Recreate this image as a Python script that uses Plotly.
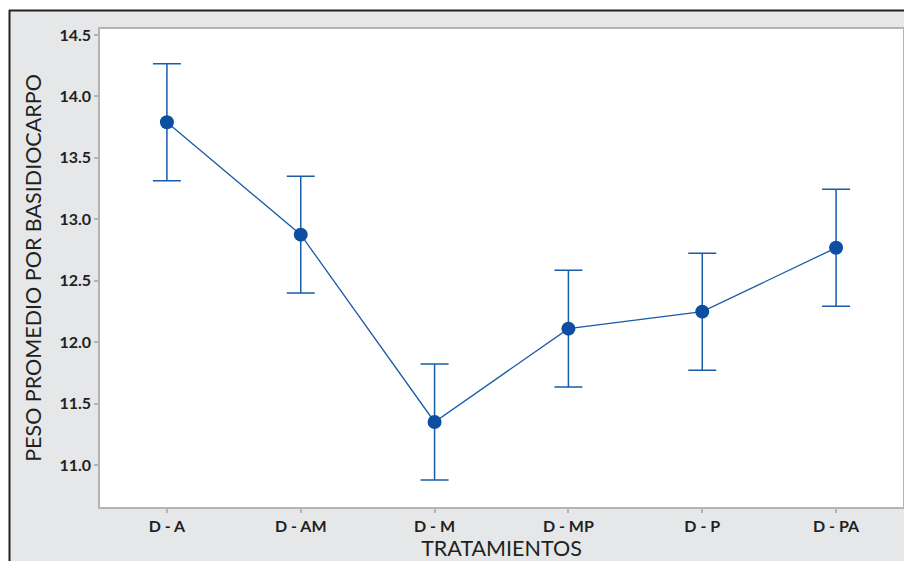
import plotly.graph_objects as go

categories = ["D - A", "D - AM", "D - M", "D - MP", "D - P", "D - PA"]
means = [13.79, 12.875, 11.35, 12.11, 12.248, 12.768]
errors = [0.476, 0.476, 0.472, 0.476, 0.476, 0.476]
y_ticks = [11.0, 11.5, 12.0, 12.5, 13.0, 13.5, 14.0, 14.5]

W, H = 904, 561
L, R, T, B = 100, 1, 29, 54
pw, ph = W - L - R, H - T - B

def px_x(p):
    return (p - L) / pw

def px_y(p):
    return (H - B - p) / ph

fig = go.Figure()
fig.add_trace(go.Scatter(
    x=categories, y=means, mode="lines+markers",
    line=dict(color="#1a5ca8", width=1.3),
    marker=dict(color="#0b4ea2", size=14),
    error_y=dict(type="data", array=errors, visible=True,
                 color="#1a5ca8", thickness=1.5, width=14),
    showlegend=False,
))

grey = "#e6e7e8"
shapes = [
    dict(type="rect", xref="paper", yref="paper", x0=px_x(-5), x1=px_x(W + 5),
         y0=px_y(10), y1=px_y(-5), fillcolor="white", line=dict(width=0)),
    dict(type="rect", xref="paper", yref="paper", x0=px_x(-5), x1=px_x(9),
         y0=px_y(H + 5), y1=px_y(-5), fillcolor="white", line=dict(width=0)),
    dict(type="line", xref="paper", yref="paper", x0=px_x(9), x1=px_x(W + 5),
         y0=px_y(10.5), y1=px_y(10.5), line=dict(color="#222222", width=2)),
    dict(type="line", xref="paper", yref="paper", x0=px_x(9.5), x1=px_x(9.5),
         y0=px_y(10), y1=px_y(H + 5), line=dict(color="#222222", width=2)),
]

tick_font = dict(size=16, family="Lato, Open Sans, sans-serif", weight=700, color="#231f20")
title_font = dict(size=21.5, family="Lato, Open Sans, sans-serif", weight=400, color="#231f20")
fig.update_layout(
    width=W, height=H,
    margin=dict(l=L, r=R, t=T, b=B, pad=0, autoexpand=False),
    paper_bgcolor=grey, plot_bgcolor="white",
    shapes=shapes,
    font=dict(family="Lato, sans-serif", color="#231f20"),
    xaxis=dict(
        range=[-0.5, 5.5], showgrid=False, zeroline=False, automargin=True,
        showline=True, linecolor="#b4b4b4", linewidth=1.5, mirror=True,
        ticks="outside", ticklen=4, tickcolor="#b4b4b4", tickwidth=1.5,
        tickfont=tick_font,
        title=dict(text="TRATAMIENTOS", font=title_font, standoff=12),
    ),
    yaxis=dict(
        range=[10.658, 14.549], showgrid=False, zeroline=False, automargin=False,
        showline=True, linecolor="#b4b4b4", linewidth=1.5, mirror=True,
        ticks="outside", ticklen=4, tickcolor="#b4b4b4", tickwidth=1.5,
        tickvals=y_ticks, ticktext=[f"{v:.1f}" for v in y_ticks],
        tickfont=tick_font,
        title=dict(text="PESO PROMEDIO POR BASIDIOCARPO", font=title_font, standoff=12),
    ),
)

fig.write_html(
    "out.html",
    config={"displayModeBar": False},
    post_script="document.body.style.margin='0';document.body.style.overflow='hidden';",
)
